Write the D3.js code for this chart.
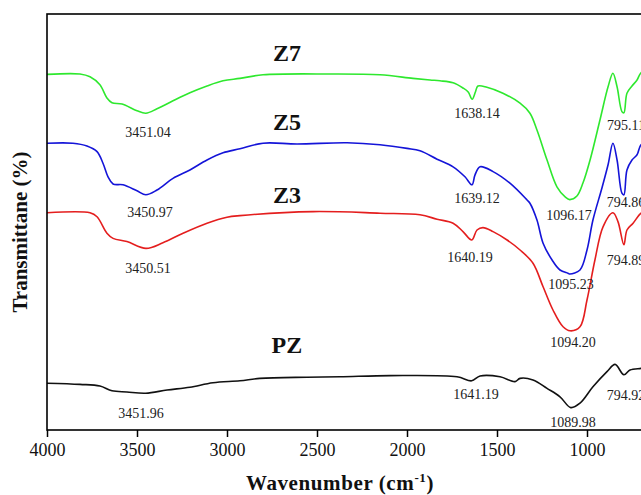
<!DOCTYPE html>
<html>
<head>
<meta charset="utf-8">
<script src="https://cdn.jsdelivr.net/npm/d3@7"></script>
<style>
  html, body { margin: 0; padding: 0; background: #fff; }
  svg { display: block; font-family: "Liberation Serif", "Times New Roman", serif; }
</style>
</head>
<body>
<div id="chart"></div>
<script>
// Spectra: [wavenumber (cm-1), transmittance (arb.)]
const z7 = [
  [4000, 88.9], [3817, 89.0], [3761, 88.3], [3706, 86.3], [3667, 83.0], [3639, 81.8],
  [3583, 81.5], [3500, 79.8], [3451, 79.2], [3389, 80.3], [3300, 82.3], [3206, 84.3],
  [3111, 86.0], [3022, 87.3], [2928, 87.9], [2800, 88.8], [2428, 89.0], [2150, 88.8],
  [1967, 87.9], [1872, 87.5], [1817, 87.3], [1744, 86.8], [1689, 85.5], [1660, 84.5],
  [1638, 82.7], [1620, 84.5], [1606, 86.0], [1556, 85.7], [1467, 84.2], [1372, 81.7],
  [1317, 79.2], [1278, 75.0], [1222, 67.5], [1167, 60.8], [1120, 58.2], [1096, 57.6],
  [1056, 58.5], [1022, 61.8], [983, 67.5], [928, 77.5], [883, 85.8], [856, 89.2],
  [833, 85.8], [806, 79.6], [795, 79.3], [778, 84.2], [750, 86.0], [722, 87.5],
  [700, 89.3], [660, 90.0]
];
const z5 = [
  [4000, 71.7], [3856, 71.7], [3778, 71.0], [3722, 69.6], [3689, 66.7], [3661, 63.3],
  [3633, 61.5], [3578, 61.3], [3500, 59.8], [3451, 58.8], [3389, 60.0], [3300, 62.9],
  [3206, 65.0], [3111, 67.5], [3022, 69.3], [2928, 70.3], [2800, 71.7], [2611, 71.5],
  [2333, 71.8], [2150, 71.3], [2000, 70.4], [1928, 69.8], [1833, 67.7], [1744, 65.8],
  [1678, 63.3], [1639, 61.3], [1622, 63.8], [1594, 65.8], [1522, 64.6], [1428, 61.7],
  [1333, 57.5], [1317, 56.7], [1278, 52.5], [1244, 46.7], [1194, 42.5], [1150, 40.0],
  [1106, 39.2], [1095, 39.0], [1039, 40.0], [1000, 45.0], [967, 52.5], [917, 60.5],
  [883, 66.3], [856, 71.7], [833, 67.5], [806, 59.2], [795, 58.8], [778, 65.0],
  [750, 67.5], [722, 68.8], [700, 71.3], [660, 72.0]
];
const z3 = [
  [4000, 54.3], [3761, 54.3], [3722, 53.3], [3667, 49.2], [3633, 47.9], [3556, 47.1],
  [3450, 45.4], [3356, 46.8], [3244, 49.2], [3111, 51.7], [3000, 53.2], [2928, 53.6],
  [2522, 54.6], [2150, 54.2], [1928, 53.8], [1833, 52.7], [1744, 51.7], [1689, 49.6],
  [1640, 47.5], [1611, 50.0], [1578, 50.6], [1522, 49.6], [1444, 47.5], [1372, 45.0],
  [1300, 41.7], [1244, 35.8], [1189, 30.0], [1133, 25.8], [1094, 24.8], [1039, 25.8],
  [1000, 32.5], [956, 42.5], [911, 50.8], [856, 54.3], [828, 52.1], [795, 46.3],
  [778, 50.0], [744, 51.7], [700, 54.2], [660, 55.0]
];
const pz = [
  [4000, 11.7], [3817, 11.4], [3706, 11.0], [3639, 9.8], [3556, 9.5], [3452, 9.2],
  [3333, 10.0], [3206, 10.7], [3078, 11.8], [2928, 12.3], [2817, 12.9], [2556, 13.2],
  [2372, 13.3], [2094, 13.6], [1722, 13.3], [1641, 12.3], [1594, 13.5], [1483, 13.3],
  [1400, 12.1], [1372, 12.9], [1300, 12.5], [1222, 10.4], [1150, 8.3], [1090, 5.6],
  [1039, 6.7], [967, 10.8], [889, 14.6], [844, 16.4], [795, 13.8], [761, 15.0],
  [700, 15.4], [660, 15.6]
];

const seriesNames = ['Z7', 'Z5', 'Z3', 'PZ'];
const seriesData = [z7, z5, z3, pz];
const seriesColors = ['#2ee82e', '#1414d8', '#e41e1e', '#111111'];
// series name label anchors [wavenumber, transmittance]
const seriesLabelPos = [[2667, 92.3], [2667, 75.0], [2667, 56.8], [2667, 19.3]];

// peak annotations: [text, wavenumber, transmittance]
const peakLabels = [
  ['3451.04', 3439, 73.3], ['3450.97', 3428, 53.3], ['3450.51', 3439, 39.3], ['3451.96', 3478, 3.0],
  ['1638.14', 1611, 78.0], ['1639.12', 1611, 56.8], ['1640.19', 1650, 42.0], ['1641.19', 1617, 7.8],
  ['1096.17', 1100, 52.5], ['1095.23', 1089, 35.3], ['1094.20', 1078, 20.8], ['1089.98', 1078, 0.8],
  ['795.11', 783, 75.0], ['794.86', 783, 55.8], ['794.89', 783, 41.3], ['794.92', 783, 7.5]
];

const xTicks = [4000, 3500, 3000, 2500, 2000, 1500, 1000, 500];

const width = 641, height = 495;
const margin = { top: 14, left: 47, bottom: 65 };
const plotRight = 695;

const svg = d3.select('#chart').append('svg')
  .attr('width', width)
  .attr('height', height);

const x = d3.scaleLinear()
  .domain([4000, 400])
  .range([margin.left, plotRight]);

const y = d3.scaleLinear()
  .domain([0, 104])
  .range([height - margin.bottom, margin.top]);

svg.append('clipPath').attr('id', 'plot-clip')
  .append('rect')
  .attr('x', margin.left).attr('y', margin.top)
  .attr('width', plotRight - margin.left)
  .attr('height', height - margin.bottom - margin.top);

// Spectra
const line = d3.line()
  .x(d => x(d[0]))
  .y(d => y(d[1]))
  .curve(d3.curveCatmullRom.alpha(0.5));

svg.append('g')
  .attr('clip-path', 'url(#plot-clip)')
  .selectAll('path')
  .data(seriesData)
  .join('path')
  .attr('d', line)
  .attr('fill', 'none')
  .attr('stroke', (d, i) => seriesColors[i])
  .attr('stroke-width', 1.6)
  .attr('stroke-linejoin', 'round');

// Frame
svg.append('rect')
  .attr('x', margin.left).attr('y', margin.top)
  .attr('width', plotRight - margin.left)
  .attr('height', height - margin.bottom - margin.top)
  .attr('fill', 'none')
  .attr('stroke', '#000')
  .attr('stroke-width', 1.6);

// X axis
const xAxis = svg.append('g')
  .attr('transform', `translate(0,${height - margin.bottom})`)
  .call(d3.axisBottom(x).tickValues(xTicks).tickSize(7).tickPadding(6).tickFormat(d3.format('d')));

xAxis.select('.domain').remove();
xAxis.selectAll('.tick line').attr('stroke', '#000').attr('stroke-width', 1.5);
xAxis.selectAll('text')
  .attr('fill', '#111')
  .attr('font-size', '18px')
  .attr('font-family', '"Liberation Serif", serif');

// Axis titles
const xTitle = svg.append('text')
  .attr('x', 340)
  .attr('y', 490)
  .attr('text-anchor', 'middle')
  .attr('font-size', '21px')
  .attr('font-weight', 'bold')
  .attr('letter-spacing', '0.6px')
  .attr('fill', '#111');
xTitle.append('tspan').text('Wavenumber (cm');
xTitle.append('tspan').attr('font-size', '13px').attr('dy', -8).text('-1');
xTitle.append('tspan').attr('dy', 8).text(')');

svg.append('text')
  .attr('transform', 'translate(27,232) rotate(-90)')
  .attr('text-anchor', 'middle')
  .attr('font-size', '21px')
  .attr('font-weight', 'bold')
  .attr('fill', '#111')
  .text('Transmittane (%)');

// Series names
svg.selectAll('.series-label')
  .data(seriesNames)
  .join('text')
  .attr('class', 'series-label')
  .attr('x', (d, i) => x(seriesLabelPos[i][0]))
  .attr('y', (d, i) => y(seriesLabelPos[i][1]))
  .attr('text-anchor', 'middle')
  .attr('font-size', '24px')
  .attr('font-weight', 'bold')
  .attr('fill', '#111')
  .text(d => d);

// Peak labels
svg.selectAll('.peak-label')
  .data(peakLabels)
  .join('text')
  .attr('class', 'peak-label')
  .attr('x', d => x(d[1]))
  .attr('y', d => y(d[2]))
  .attr('text-anchor', 'middle')
  .attr('font-size', '14px')
  .attr('fill', '#222')
  .text(d => d[0]);
</script>
</body>
</html>
